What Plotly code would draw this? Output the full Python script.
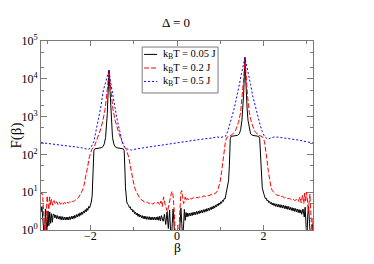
import plotly.graph_objects as go

# ---------------- data ----------------
beta_005 = [-3.14,-3.12,-3.10,-3.08,-3.06,-3.04,-3.02,-3.00,-2.98,-2.96,-2.94,-2.92,-2.90,-2.88,-2.86,
            -2.84,-2.82,-2.80,-2.78,-2.76,-2.74,-2.72,-2.70,-2.68,-2.66,-2.64,-2.62,-2.60,-2.58,-2.56,-2.54,-2.52,-2.50,-2.48,-2.46,
            -2.44,-2.42,-2.40,-2.38,-2.36,-2.34,-2.32,-2.30,-2.28,-2.26,-2.24,-2.22,-2.20,-2.18,-2.16,-2.14,-2.12,-2.10,-2.08,-2.06,-2.04,-2.02,
            -2.00,-1.98,-1.96,-1.95,-1.94,-1.93,-1.92,-1.90,-1.85,-1.80,-1.75,-1.71,-1.68,-1.65,-1.63,-1.61,-1.595,-1.58,-1.57,-1.56,-1.545,-1.53,-1.51,-1.49,-1.46,-1.43,-1.39,-1.34,-1.29,-1.24,-1.22,-1.21,-1.20,-1.19,-1.18,-1.16,-1.14,
            -1.12,-1.10,-1.08,-1.06,-1.04,-1.02,-1.00,-0.98,-0.96,-0.94,-0.92,-0.90,-0.88,-0.86,-0.84,-0.82,-0.80,-0.78,-0.76,-0.74,-0.72,-0.70,-0.68,-0.66,-0.64,-0.62,-0.60,-0.58,-0.56,-0.54,-0.52,-0.50,-0.48,-0.46,-0.44,-0.42,-0.40,-0.38,-0.36,
            -0.32,-0.29,-0.26,-0.23,-0.20,-0.17,-0.15,-0.13,-0.11,-0.09,-0.07,-0.05,-0.02,0.02,0.05,0.07,0.09,0.11,0.13,0.15,0.17,0.19,0.21,
            0.23,0.25,0.27,0.29,0.31,0.33,0.35,0.37,0.39,0.41,0.43,0.45,0.47,0.49,0.51,0.53,0.55,0.57,0.59,0.61,0.63,0.65,0.67,0.69,0.71,0.73,0.75,0.77,0.79,0.81,0.83,0.85,0.87,0.89,0.91,0.93,0.95,0.97,0.99,1.01,1.03,1.05,1.07,1.09,1.11,
            1.14,1.17,1.19,1.21,1.22,1.23,1.25,1.30,1.35,1.40,1.44,1.47,1.50,1.52,1.54,1.555,1.57,1.585,1.60,1.62,1.64,1.67,1.70,1.74,1.79,1.84,1.89,1.91,1.92,1.93,1.95,1.97,2.00,
            2.02,2.04,2.06,2.08,2.10,2.12,2.14,2.16,2.18,2.20,2.22,2.24,2.26,2.28,2.30,2.32,2.34,2.36,2.38,2.40,2.42,2.44,2.46,2.48,2.50,2.52,2.54,2.56,2.58,2.60,2.62,2.64,2.66,2.68,2.70,2.72,2.74,2.76,2.78,2.80,2.82,2.84,2.86,
            2.88,2.91,2.94,2.96,2.98,3.00,3.02,3.04,3.06,3.08,3.10,3.12,3.14]
F_005 = [3.0,4.2,2.0,0.6,0.5,3.6,1.0,0.7,3.2,1.3,3.0,1.5,2.7,1.6,2.6,
         2.6,2.1,2.5,2.0,2.4,1.95,2.3,1.9,2.3,1.85,2.25,1.85,2.2,1.85,2.2,1.85,2.2,1.85,2.25,1.9,
         2.3,1.95,2.35,2.0,2.45,2.1,2.55,2.2,2.7,2.3,2.85,2.45,3.0,2.6,3.2,2.8,3.45,3.0,3.75,3.3,4.2,3.8,
         4.6,5.5,8,13,30,80,125,140,143,146,150,160,190,280,500,1200,3500,9000,17000,9000,3500,1200,500,280,190,160,150,146,143,140,125,80,30,13,8,5.5,4.8,
         4.6,3.9,4.1,3.4,3.6,3.0,3.3,2.7,3.0,2.5,2.8,2.3,2.65,2.2,2.5,2.1,2.4,2.0,2.35,1.95,2.3,1.9,2.25,1.9,2.25,1.85,2.2,1.85,2.2,1.85,2.2,1.85,2.2,1.85,2.25,1.8,2.3,1.75,2.4,
         1.7,2.6,1.4,3.0,1.1,3.4,1.0,0.5,1.5,3.6,1.5,0.5,0.3,0.3,0.5,1.8,3.8,1.5,0.6,1.2,3.5,1.8,2.9,
         2.2,2.8,2.3,2.8,2.35,2.85,2.4,2.95,2.5,3.0,2.55,3.1,2.6,3.15,2.7,3.25,2.8,3.35,2.85,3.45,2.95,3.55,3.05,3.7,3.15,3.8,3.3,3.95,3.45,4.15,3.6,4.35,3.8,4.6,4.05,4.9,4.35,5.2,4.7,5.6,5.1,6.1,5.7,6.8,6.6,
         9.5,13,20,50,150,260,300,305,310,320,350,450,800,1600,4000,12000,37000,12000,4000,1600,800,450,350,320,310,305,300,260,150,50,20,13,9.5,
         8.2,6.8,7.0,5.9,6.2,5.3,5.7,4.9,5.4,4.6,5.2,4.4,5.0,4.2,4.9,4.1,4.8,4.0,4.7,3.9,4.6,3.8,4.5,3.7,4.4,3.6,4.3,3.5,4.2,3.4,4.0,3.3,3.9,3.2,3.8,3.1,3.7,3.0,3.6,2.9,3.5,2.8,3.4,
         2.6,3.6,2.2,4.0,1.2,0.5,2.5,4.2,1.5,0.5,0.4,1.0,1.5]

beta_02 = [-3.14,-3.12,-3.10,-3.08,-3.06,-3.04,-3.02,-3.00,-2.98,-2.96,-2.94,-2.92,-2.90,-2.87,-2.84,-2.81,-2.78,-2.75,-2.72,-2.69,-2.66,-2.63,-2.60,-2.57,-2.54,-2.51,-2.48,-2.45,-2.42,-2.39,-2.36,-2.33,-2.30,-2.27,-2.24,-2.21,-2.18,-2.15,-2.12,-2.09,-2.06,-2.03,-2.00,-1.97,-1.94,-1.90,-1.86,-1.81,-1.76,-1.71,-1.66,-1.62,-1.595,-1.57,-1.545,-1.52,-1.48,-1.43,-1.38,-1.33,-1.28,-1.24,-1.20,-1.17,-1.14,-1.11,-1.08,-1.05,-1.02,-0.99,-0.96,-0.93,-0.90,-0.87,-0.84,-0.80,-0.76,-0.72,-0.68,-0.64,-0.60,-0.56,-0.52,-0.48,-0.44,-0.40,-0.37,-0.34,-0.31,-0.28,-0.25,-0.22,-0.19,-0.16,-0.13,-0.11,-0.09,-0.07,-0.05,-0.03,0.03,0.05,0.07,0.09,0.11,0.13,0.15,0.17,0.19,0.21,0.24,0.27,0.30,0.34,0.38,0.42,0.46,0.50,0.54,0.58,0.62,0.66,0.70,0.74,0.78,0.82,0.86,0.90,0.94,0.97,1.00,1.03,1.06,1.09,1.12,1.15,1.20,1.27,1.35,1.42,1.47,1.51,1.54,1.57,1.60,1.63,1.67,1.72,1.79,1.87,1.94,1.99,2.02,2.05,2.08,2.11,2.14,2.17,2.20,2.24,2.28,2.32,2.36,2.40,2.44,2.48,2.52,2.56,2.60,2.64,2.68,2.72,2.76,2.80,2.84,2.87,2.90,2.93,2.95,2.97,2.99,3.01,3.03,3.05,3.07,3.09,3.11,3.13,3.14]
F_02 = [9,10,7,3,1.0,0.5,2.5,8,5,3.5,7.5,4.5,6.5,4.5,6,4.8,5.6,4.7,5.5,4.8,5.4,4.8,5.4,4.9,5.5,5.1,5.6,5.3,5.8,5.6,6.1,6.3,6.8,7.3,8.3,9.5,11.5,15,21,32,50,80,110,135,150,175,230,330,480,800,1600,4000,8000,16000,8000,4000,1600,800,480,330,230,175,150,135,110,80,50,32,21,15,11.5,9.5,8.3,7.3,6.6,6.0,5.6,5.3,5.5,4.9,5.4,4.8,5.3,4.9,5.5,4.6,5.8,4.2,7.5,5,3.5,3.0,4.5,7,9.5,10.5,8,4,1.5,0.5,0.5,1.5,5,10,11,8,5,5.5,7.5,6,7,6.3,7,6.6,7.3,6.8,7.4,7.1,7.8,7.4,8.0,7.7,8.3,8.0,8.6,8.5,9.0,9.6,11,14,20,35,70,140,220,280,305,330,420,700,1300,3500,10000,35000,10000,3500,1300,700,420,330,305,280,220,140,70,35,20,14,11,9.6,8.8,8.2,8.3,7.6,7.8,7.1,7.3,6.7,6.9,6.3,6.6,6.0,6.4,5.6,7.5,5.2,8.5,5,9.5,5.5,10,7,3,5,9,3,0.5,0.5,2]

beta_05 = [-3.14,-2.8,-2.5,-2.2,-2.05,-1.99,-1.92,-1.87,-1.82,-1.76,-1.70,-1.64,-1.60,-1.57,-1.54,-1.50,-1.44,-1.38,-1.32,-1.27,-1.22,-1.15,-1.05,-1.0,-0.8,-0.6,-0.4,-0.2,0.0,0.2,0.4,0.6,0.8,0.92,1.0,1.05,1.12,1.17,1.22,1.27,1.33,1.39,1.44,1.49,1.53,1.57,1.61,1.65,1.70,1.75,1.81,1.87,1.92,1.97,2.02,2.09,2.15,2.25,2.35,2.50,2.80,3.14]
F_05 = [205,185,170,150,135,150,220,400,800,1800,5000,9000,13000,17000,9000,5000,1800,800,400,220,160,140,130,135,148,160,172,188,210,225,240,255,270,290,280,285,300,400,600,1000,1800,3500,7000,14000,22000,36000,22000,14000,7000,3500,1800,1000,600,400,300,255,265,290,285,270,240,200]

title_text = "\u0394 = 0"
x_title = "\u03b2"
y_title = "F(\u03b2)"
legend_names = ["k<sub>B</sub>T = 0.05 J", "k<sub>B</sub>T = 0.2 J", "k<sub>B</sub>T = 0.5 J"]
series_colors = ["black", "red", "blue"]
series_dash = ["solid", "5px,2px", "2px,2px"]
y_tickvals = [1, 10, 100, 1000, 10000, 100000]
y_ticktext = ["10<sup>0</sup>", "10<sup>1</sup>", "10<sup>2</sup>", "10<sup>3</sup>", "10<sup>4</sup>", "10<sup>5</sup>"]

# ---------------- figure ----------------
FONT = "Liberation Serif"
AX = "#7a7a7a"
# page body has an 8px margin; figure is sized to fit inside the window
W, H = 358, 248
ML, MR, MT, MB = 33, 53, 33, 26
PLOT_H = H - MT - MB

fig = go.Figure()
for bx, fy, nm, c, d in zip([beta_005, beta_02, beta_05], [F_005, F_02, F_05],
                            legend_names, series_colors, series_dash):
    fig.add_trace(go.Scatter(x=bx, y=fy, mode="lines", name=nm, showlegend=False,
                             line=dict(color=c, width=1, dash=d)))

# compact legend box (paper coordinates of the plot area)
LEG_X0, LEG_X1, LEG_Y0, LEG_Y1 = 0.372, 0.651, 0.725, 0.968
ROW_Y = [0.929, 0.857, 0.786]
SAMPLE_X0, SAMPLE_X1, TEXT_X = 0.379, 0.427, 0.441
shapes = [dict(type="rect", xref="paper", yref="paper", x0=LEG_X0, x1=LEG_X1, y0=LEG_Y0, y1=LEG_Y1,
               line=dict(color=AX, width=1), fillcolor="white", layer="above")]
annotations = []
for ry, nm, c, d in zip(ROW_Y, legend_names, series_colors, series_dash):
    shapes.append(dict(type="line", xref="paper", yref="paper", x0=SAMPLE_X0, x1=SAMPLE_X1, y0=ry, y1=ry,
                       line=dict(color=c, width=1, dash=d), layer="above"))
    annotations.append(dict(xref="paper", yref="paper", x=TEXT_X, y=ry, text=nm, showarrow=False,
                            xanchor="left", yanchor="middle", font=dict(family=FONT, size=10.5, color="black")))
# x-axis title: sits on the bottom edge of the figure, below the tick labels
annotations.append(dict(xref="paper", yref="paper", x=0.5, y=-MB / PLOT_H, text=x_title, showarrow=False,
                        xanchor="center", yanchor="bottom", borderpad=0,
                        font=dict(family=FONT, size=13.5, color="black")))

fig.update_layout(
    width=W, height=H,
    margin=dict(l=ML, r=MR, t=MT, b=MB, autoexpand=False),
    paper_bgcolor="white", plot_bgcolor="white",
    font=dict(family=FONT, color="black", size=12),
    title=dict(text=title_text, x=168/W, xanchor="center", y=1-14/H, yanchor="middle",
               font=dict(family=FONT, size=13)),
    showlegend=False,
    shapes=shapes, annotations=annotations,
)
fig.update_xaxes(
    automargin=False,
    range=[-3.1416, 3.1416], showgrid=False, zeroline=False,
    showline=True, linecolor=AX, linewidth=1, mirror="ticks",
    ticks="inside", ticklen=5, tickcolor=AX, dtick=2, tick0=0,
    tickfont=dict(family=FONT, size=12), ticklabelstandoff=-5,
    minor=dict(ticks="inside", ticklen=3, tickcolor=AX, dtick=1, tick0=0, showgrid=False),
)
fig.update_yaxes(
    automargin=False,
    type="log", range=[0, 5], showgrid=False, zeroline=False,
    showline=True, linecolor=AX, linewidth=1, mirror="ticks",
    ticks="inside", ticklen=6, tickcolor=AX,
    tickmode="array", tickvals=y_tickvals, ticktext=y_ticktext,
    tickfont=dict(family=FONT, size=12),
    minor=dict(ticks="inside", ticklen=3, tickcolor=AX, showgrid=False),
    title=dict(text=y_title, font=dict(family=FONT, size=15), standoff=4),
)

fig.write_html("out.html")
